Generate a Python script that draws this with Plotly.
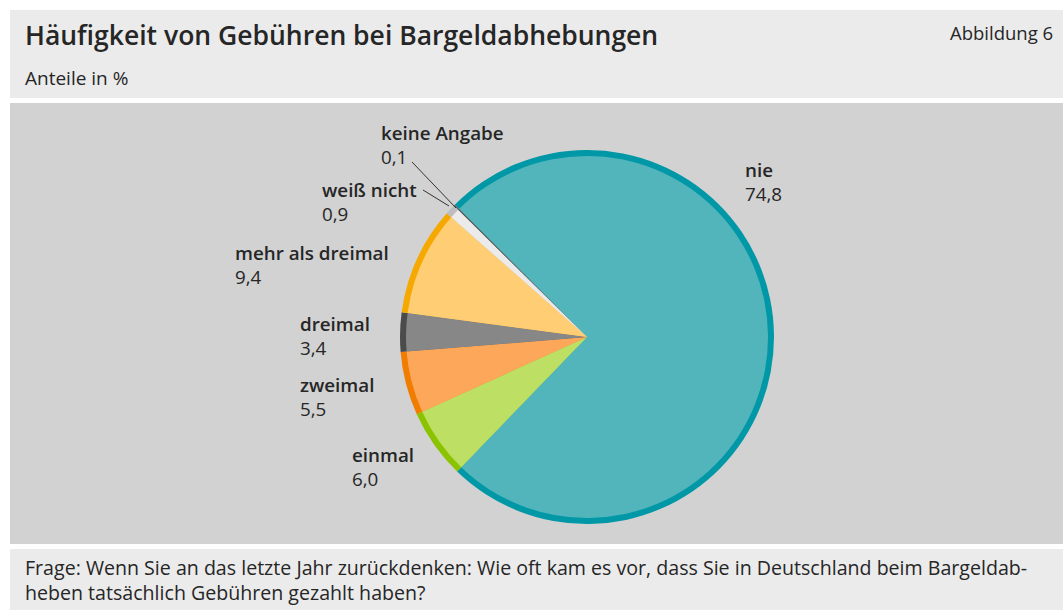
import plotly.graph_objects as go

categories = ["nie", "einmal", "zweimal", "dreimal", "mehr als dreimal", "weiß nicht", "keine Angabe"]
values = [74.8, 6.0, 5.5, 3.4, 9.4, 0.9, 0.1]
fill_colors = ["#52b5bc", "#bcdf64", "#fda75b", "#878787", "#ffcd74", "#ebebeb", "#555555"]
rim_colors = ["#0098a6", "#8cc300", "#f07c00", "#4b4b4b", "#f5a900", "#bdbdbd", "#555555"]

title = "Häufigkeit von Gebühren bei Bargeldabhebungen"
subtitle = "Anteile in %"
fig_label = "Abbildung 6"
footer_lines = [
    "Frage: Wenn Sie an das letzte Jahr zurückdenken: Wie oft kam es vor, dass Sie in Deutschland beim Bargeldab-",
    "heben tatsächlich Gebühren gezahlt haben?",
]

W, H = 1063, 610
FONT = "Open Sans"
TXT = "#262626"


def X(px):
    return px / W


def Y(py):
    return 1 - py / H


cx, cy, R, rim = 587, 337, 187, 6

fig = go.Figure()
# outer rim pie
fig.add_trace(go.Pie(
    labels=categories, values=values, sort=False, direction="clockwise", rotation=-45,
    marker=dict(colors=rim_colors, line=dict(width=0)),
    textinfo="none", hoverinfo="skip", showlegend=False,
    domain=dict(x=[X(cx - R), X(cx + R)], y=[Y(cy + R), Y(cy - R)]),
))
# inner fill pie
r2 = R - rim
fig.add_trace(go.Pie(
    labels=categories, values=values, sort=False, direction="clockwise", rotation=-45,
    marker=dict(colors=fill_colors, line=dict(width=0)),
    textinfo="none", hoverinfo="skip", showlegend=False,
    domain=dict(x=[X(cx - r2), X(cx + r2)], y=[Y(cy + r2), Y(cy - r2)]),
))

shapes = [
    dict(type="rect", xref="paper", yref="paper", x0=X(10), x1=1, y0=Y(98), y1=Y(10),
         fillcolor="#ebebeb", line=dict(width=0), layer="below"),
    dict(type="rect", xref="paper", yref="paper", x0=X(10), x1=1, y0=Y(544), y1=Y(103),
         fillcolor="#d2d2d2", line=dict(width=0), layer="below"),
    dict(type="rect", xref="paper", yref="paper", x0=X(10), x1=1, y0=0, y1=Y(549),
         fillcolor="#ebebeb", line=dict(width=0), layer="below"),
    # leader lines
    dict(type="line", xref="paper", yref="paper", x0=X(412), y0=Y(162), x1=X(456), y1=Y(208),
         line=dict(color="#333333", width=1)),
    dict(type="line", xref="paper", yref="paper", x0=X(423), y0=Y(190), x1=X(449), y1=Y(206),
         line=dict(color="#333333", width=1)),
]

annotations = []


def txt(x, y, s, size, weight=400, xanchor="left"):
    annotations.append(dict(x=X(x), y=Y(y), xref="paper", yref="paper", text=s, showarrow=False,
                            xanchor=xanchor, yanchor="middle", align="left",
                            font=dict(family=FONT, size=size, color=TXT, weight=weight)))


txt(23, 35, title, 26.5, 600)
txt(1055, 33, fig_label, 18.5, 400, xanchor="right")
txt(23, 78, subtitle, 19)
txt(23, 580, "<br>".join(footer_lines), 19.6)

label_pos = {
    "nie": (745, 170),
    "einmal": (352, 455),
    "zweimal": (300, 385),
    "dreimal": (300, 324),
    "mehr als dreimal": (235, 253),
    "weiß nicht": (322, 190),
    "keine Angabe": (381, 133),
}
for c, v in zip(categories, values):
    x, y = label_pos[c]
    val = f"{v:.1f}".replace(".", ",")
    txt(x - 2, y + 12, f"<span style='font-weight:600'>{c}</span><br>{val}", 18.8, 400)

fig.update_layout(
    width=W, height=H, margin=dict(l=0, r=0, t=0, b=0),
    paper_bgcolor="white", plot_bgcolor="white",
    shapes=shapes, annotations=annotations, showlegend=False,
)
fig.write_html("out.html", config={"displayModeBar": False},
               post_script="document.body.style.margin='0';document.body.style.overflow='hidden';")
